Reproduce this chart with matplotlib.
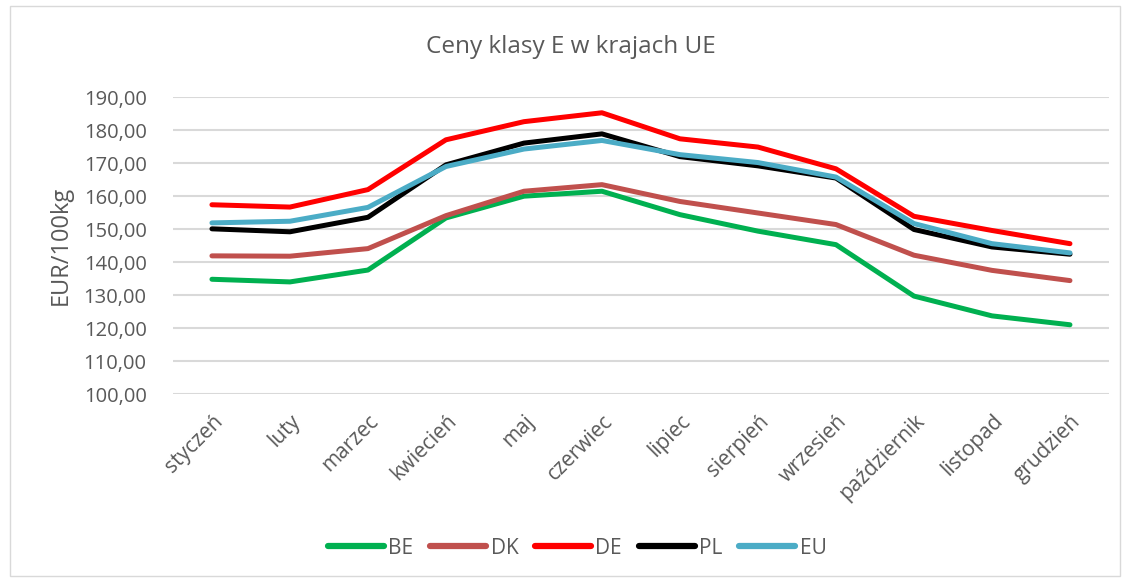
import matplotlib
matplotlib.use("Agg")
import matplotlib.pyplot as plt
from matplotlib.patches import Rectangle

months = ["styczeń", "luty", "marzec", "kwiecień", "maj", "czerwiec", "lipiec",
          "sierpień", "wrzesień", "październik", "listopad", "grudzień"]
BE = [134.8, 134.0, 137.6, 153.4, 160.0, 161.5, 154.4, 149.4, 145.3, 129.7, 123.7, 121.0]
DK = [141.9, 141.8, 144.1, 154.1, 161.5, 163.5, 158.4, 154.9, 151.4, 142.1, 137.5, 134.4]
DE = [157.4, 156.7, 162.0, 177.1, 182.6, 185.3, 177.4, 174.9, 168.3, 153.9, 149.6, 145.6]
PL = [150.1, 149.2, 153.6, 169.5, 176.1, 178.9, 172.0, 169.2, 165.5, 149.9, 144.6, 142.4]
EU = [151.9, 152.4, 156.6, 169.0, 174.3, 176.9, 172.6, 170.2, 165.8, 151.7, 145.6, 142.8]
yticks = [100, 110, 120, 130, 140, 150, 160, 170, 180, 190]

series = [("BE", BE, "#00b050"), ("DK", DK, "#c0504d"), ("DE", DE, "#ff0000"),
          ("PL", PL, "#000000"), ("EU", EU, "#4bacc6")]

plt.rcParams['font.family'] = ['Open Sans', 'DejaVu Sans']
txt = "#595959"

fig = plt.figure(figsize=(11.23, 5.79), dpi=100)
ax = fig.add_axes([0.154, 0.3195, 0.8335, 0.5125])

x = list(range(len(months)))
for name, vals, col in series:
    ax.plot(x, vals, color=col, lw=3.6, label=name, solid_capstyle='round', solid_joinstyle='round')

ax.set_xlim(-0.5, len(months) - 0.5)
ax.set_ylim(100, 190)
ax.set_yticks(yticks)
ax.set_yticklabels([f"{v:.2f}".replace(".", ",") for v in yticks], fontsize=14.5, color=txt)
ax.set_xticks(x)
ax.set_xticklabels(months, rotation=45, ha='right', rotation_mode='anchor', fontsize=15, color=txt)
ax.tick_params(length=0)
ax.tick_params(axis='y', pad=19)
ax.tick_params(axis='x', pad=12)
ax.grid(axis='y', color='#d9d9d9', lw=1.5)
ax.set_axisbelow(True)
for s in ax.spines.values():
    s.set_visible(False)
ax.set_ylabel("EUR/100kg", fontsize=17, color=txt)
ax.yaxis.set_label_coords(-0.107, 0.5)

fig.text(0.508, 0.918, "Ceny klasy E w krajach UE", ha='center', va='center', fontsize=17.5, color=txt)

leg = fig.legend(loc='center', bbox_to_anchor=(0.514, 0.0535), ncol=5, frameon=False,
                 fontsize=15, handlelength=2.7, columnspacing=0.8, handletextpad=0.2)
for t in leg.get_texts():
    t.set_color(txt)
for h in leg.get_lines():
    h.set_linewidth(4.5)

fig.patches.append(Rectangle((0.009, 0.005), 0.988, 0.985, transform=fig.transFigure,
                             fill=False, edgecolor='#d9d9d9', lw=1))

fig.savefig("out.png", dpi=100)
